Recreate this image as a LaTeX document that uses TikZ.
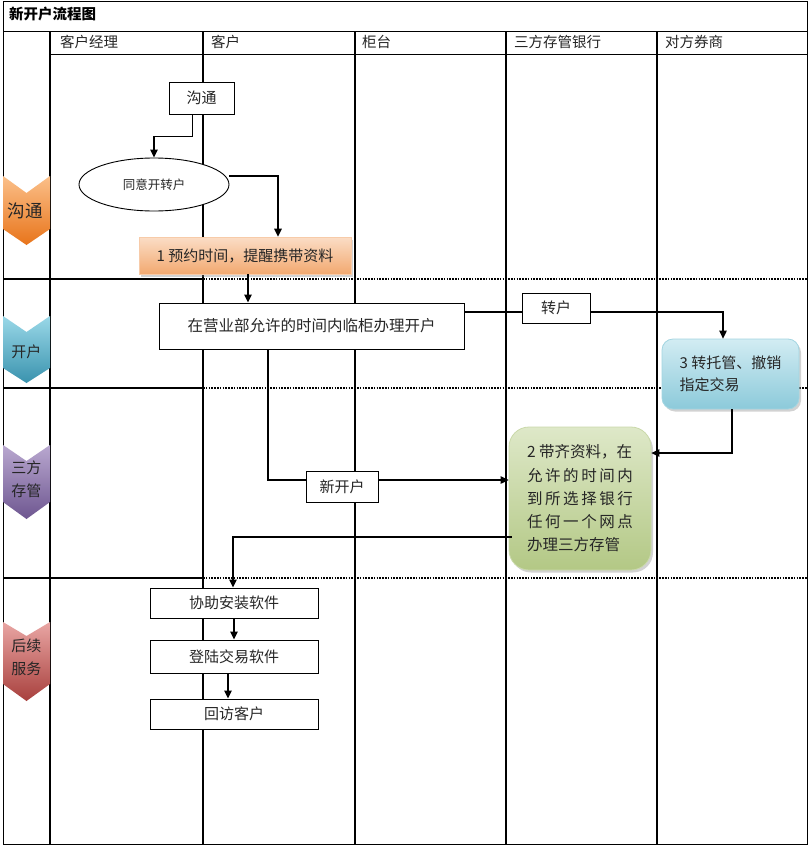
\documentclass[tikz,border=0pt]{standalone}
\usepackage{fontspec}
\setmainfont{Noto Sans CJK SC}
\usetikzlibrary{arrows.meta,shapes.geometric,shadows}
\definecolor{orgT}{HTML}{FBC08A}
\definecolor{orgB}{HTML}{E8741A}
\definecolor{bluT}{HTML}{9AD8E8}
\definecolor{bluB}{HTML}{3A93AE}
\definecolor{purT}{HTML}{B9A8D0}
\definecolor{purB}{HTML}{6E5690}
\definecolor{redT}{HTML}{E9A6A4}
\definecolor{redB}{HTML}{A8403D}
\definecolor{pchT}{HTML}{FBDDC6}
\definecolor{pchB}{HTML}{F2A970}
\definecolor{ltbT}{HTML}{D2ECF3}
\definecolor{ltbB}{HTML}{8CCADA}
\definecolor{grnT}{HTML}{DEE8C8}
\definecolor{grnB}{HTML}{B3C885}
\newcommand{\fs}[2]{\fontsize{#1}{#2}\selectfont}
\newcommand{\spr}[1]{\makebox[106pt]{#1}}
\tikzset{
  lane/.style={line width=1.1pt},
  sepsolid/.style={line width=2pt},
  sepdot/.style={line width=2pt, dash pattern=on 1.6pt off 1.2pt},
  arr/.style={-{Triangle[length=8pt,width=7.5pt]}, line width=1.3pt},
  conn/.style={line width=1.3pt},
  box/.style={draw, line width=0.9pt, fill=white, inner sep=0pt, text=black!85},
  hdr/.style={anchor=west, font=\fs{14.5}{16}, text=black!85, inner sep=0pt},
  chevtxt/.style={font=\fs{15}{23}, align=center, text=black!85, inner sep=0pt},
  shadowed/.style={drop shadow={opacity=0.35, shadow xshift=2pt, shadow yshift=-2.5pt}}
}
\begin{document}
\begin{tikzpicture}[x=1pt,y=-1pt]
\useasboundingbox (0,0) rectangle (810,846);
\fill[white] (0,0) rectangle (810,846);
% frame and grid
\draw[line width=1pt] (3,1.5) rectangle (807,844);
\draw[line width=1pt] (3,31) -- (807,31);
\draw[line width=1pt] (50,54) -- (807,54);
\foreach \x in {50,203,355,506,657} \draw[lane] (\x,31) -- (\x,844);
\foreach \y in {279,388,578} {
  \draw[sepsolid] (3,\y) -- (203,\y);
  \draw[sepdot] (203,\y) -- (807,\y);
}
% title and headers
\node[anchor=west, font=\bfseries\fs{14.5}{16}, inner sep=0pt] (title) at (9,14) {新开户流程图};
\node[hdr] (h1) at (60,42) {客户经理};
\node[hdr] (h2) at (211,42) {客户};
\node[hdr] (h3) at (362,42) {柜台};
\node[hdr] (h4) at (514,42) {三方存管银行};
\node[hdr] (h5) at (665,42) {对方券商};
% chevrons
\shade[top color=orgT, bottom color=orgB] (3,176) -- (26.5,193) -- (50,176) -- (50,229) -- (26.5,245) -- (3,229) -- cycle;
\node[chevtxt, font=\fs{17.5}{20}] (c1) at (25.5,211) {沟通};
\shade[top color=bluT, bottom color=bluB] (3,316) -- (26.5,332) -- (50,316) -- (50,368) -- (26.5,383) -- (3,368) -- cycle;
\node[chevtxt] (c2) at (26.5,352) {开户};
\shade[top color=purT, bottom color=purB] (3,445) -- (26.5,461) -- (50,445) -- (50,502) -- (26.5,519) -- (3,502) -- cycle;
\node[chevtxt] (c3) at (26.5,479) {三方\\存管};
\shade[top color=redT, bottom color=redB] (3,622) -- (26.5,636) -- (50,622) -- (50,684) -- (26.5,701) -- (3,684) -- cycle;
\node[chevtxt] (c4) at (26.5,657) {后续\\服务};
% nodes
\node[box, minimum width=65pt, minimum height=32pt, font=\fs{15}{18}] (gt) at (201.5,98) {沟通};
\node[draw, ellipse, line width=0.9pt, fill=white, minimum width=150pt, minimum height=53pt, inner sep=0pt, font=\fs{12.5}{15}, text=black!85] (agree) at (154,184.5) {同意开转户};
\node[shadowed, draw=pchB!60, line width=0.6pt, top color=pchT, bottom color=pchB, minimum width=212pt, minimum height=37pt, inner sep=0pt, font=\fs{15}{18}, text=black!85] (book) at (245,255.5) {1 预约时间，提醒携带资料};
\node[box, minimum width=305pt, minimum height=46pt, font=\fs{15.5}{18}] (open) at (311.5,326) {在营业部允许的时间内临柜办理开户};
\node[box, minimum width=68pt, minimum height=30pt, font=\fs{15}{18}] (zh) at (556,308) {转户};
\node[shadowed, draw=ltbB!80!white, line width=0.8pt, rounded corners=11pt, top color=ltbT, bottom color=ltbB, minimum width=137pt, minimum height=70pt, inner sep=0pt, align=left, font=\fs{15}{22}, text=black!85] (tuo) at (730.5,374) {3 转托管、撤销\\指定交易};
\node[shadowed, draw=grnB!70!white, line width=0.8pt, rounded corners=20pt, top color=grnT, bottom color=grnB, minimum width=142pt, minimum height=143pt, inner sep=0pt, align=left, font=\fs{15.5}{23.2}, text=black!85] (bank) at (580,498.5) {\makebox[106pt][l]{2 带齐资料，在}\\\spr{允\hfill 许\hfill 的\hfill 时\hfill 间\hfill 内}\\\spr{到\hfill 所\hfill 选\hfill 择\hfill 银\hfill 行}\\\spr{任\hfill 何\hfill 一\hfill 个\hfill 网\hfill 点}\\\makebox[106pt][l]{办理三方存管}};
\node[box, minimum width=72pt, minimum height=31pt, font=\fs{15}{18}] (xin) at (342,486.5) {新开户};
\node[box, minimum width=168pt, minimum height=30pt, font=\fs{15}{18}] (xz) at (234,603) {协助安装软件};
\node[box, minimum width=168pt, minimum height=33pt, font=\fs{15}{18}] (dl) at (234,656.5) {登陆交易软件};
\node[box, minimum width=168pt, minimum height=30pt, font=\fs{15}{18}] (hf) at (234,714) {回访客户};
% connectors
\draw[arr] ([xshift=-9pt]gt.south) -- ++(0,22) -| (agree.north);
\draw[arr] ([yshift=8.5pt]agree.east) -| ([xshift=33pt]book.north);
\draw[arr] ([xshift=3pt]book.south) -- ([xshift=3pt]book.south |- open.north);
\draw[conn] ([yshift=14pt]open.east) -- ([yshift=14pt]open.east -| zh.west);
\draw[arr] ([yshift=-4pt]zh.east) -| ([xshift=-7.5pt]tuo.north);
\draw[arr] ([xshift=1.5pt]tuo.south) |- ([yshift=45.5pt]bank.east);
\draw[conn] ([xshift=-43.5pt]open.south) |- ([yshift=6.5pt]xin.west);
\draw[arr] ([yshift=6.5pt]xin.east) -- ([yshift=6.5pt]xin.east -| bank.west);
\draw[arr] ([yshift=-38.5pt,xshift=3pt]bank.west) -| ([xshift=-1pt]xz.north);
\draw[arr] (xz.south) -- (dl.north);
\draw[arr] ([xshift=-6pt]dl.south) -- ([xshift=-6pt]hf.north);
\end{tikzpicture}
\end{document}
